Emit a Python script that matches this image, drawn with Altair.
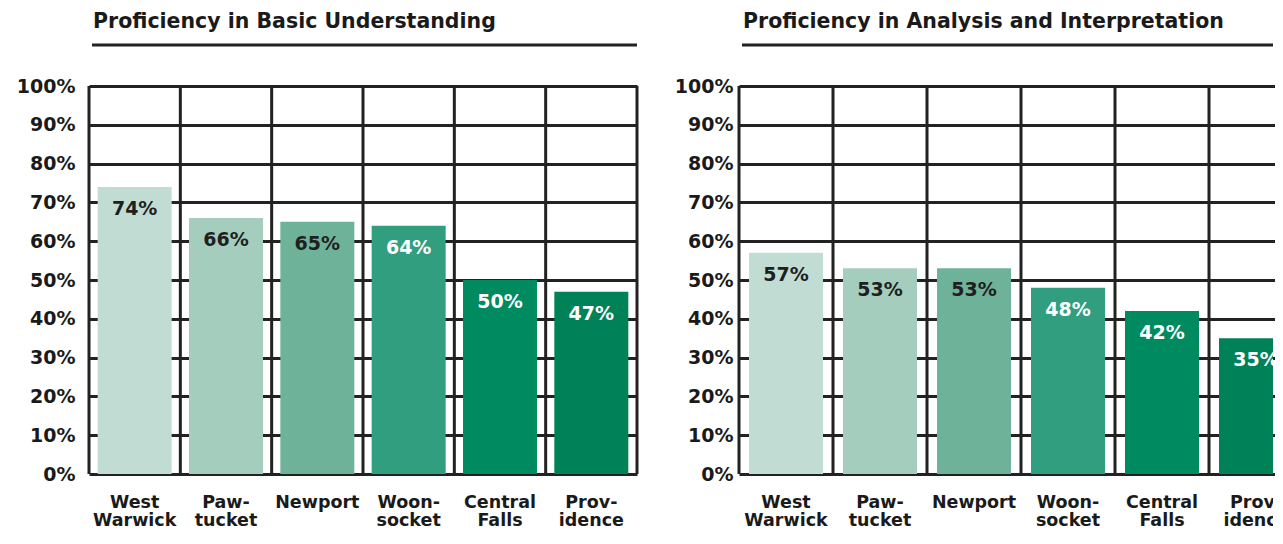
import altair as alt
import pandas as pd

districts = ["West\nWarwick", "Paw-\ntucket", "Newport", "Woon-\nsocket", "Central\nFalls", "Prov-\nidence"]
basic = [74, 66, 65, 64, 50, 47]
analysis = [57, 53, 53, 48, 42, 35]
bar_colors = ["#c1ddd3", "#a4cdbd", "#6fb29a", "#309e7f", "#008a5f", "#008158"]
label_colors = ["#1f1f1f", "#1f1f1f", "#1f1f1f", "#ffffff", "#ffffff", "#ffffff"]
titles = ["Proficiency in Basic Understanding", "Proficiency in Analysis and Interpretation"]
y_ticks = [0, 10, 20, 30, 40, 50, 60, 70, 80, 90, 100]

FONT = "DejaVu Sans"
INK = "#222222"
PLOT_H = 388
VIEW_H = 444


def panel(values, title, width, band_extent, ylab_pad, right_border):
    df = pd.DataFrame({
        "district": districts,
        "pct": values,
        "color": bar_colors,
        "tcolor": label_colors,
        "label": [f"{v}%" for v in values],
    })
    xscale = alt.Scale(domain=districts, range=[0, band_extent], paddingInner=0, paddingOuter=0)
    yscale = alt.Scale(domain=[0, 100], range=[PLOT_H, 0], nice=False)
    yaxis = alt.Axis(
        title=None, values=y_ticks, labelExpr="datum.value + '%'",
        grid=True, gridColor=INK, gridWidth=3, ticks=False, domain=False,
        labelPadding=ylab_pad, labelFontSize=19, labelFont=FONT,
        labelColor="#1a1a1a", labelFontWeight="bold",
    )

    def X(**kw):
        return alt.X("district:N", sort=None, scale=xscale, axis=None, **kw)

    base = alt.Chart(df)

    vlines = base.mark_rule(strokeWidth=3, color=INK).encode(
        x=X(bandPosition=0),
        y=alt.datum(100, scale=yscale, axis=yaxis),
        y2=alt.datum(0),
    )
    layers = [vlines]
    if right_border:
        edge = alt.Chart(pd.DataFrame({"district": districts[-1:]})).mark_rule(
            strokeWidth=3, color=INK
        ).encode(x=X(bandPosition=1), y=alt.datum(100), y2=alt.datum(0))
        layers.append(edge)

    bars = base.mark_bar(width=74, clip=True).encode(
        x=X(),
        y=alt.Y("pct:Q", scale=yscale, axis=yaxis),
        color=alt.Color("color:N", scale=None),
    )
    vals = base.mark_text(
        dy=22, font=FONT, fontSize=19, fontWeight="bold", baseline="middle", clip=True
    ).encode(
        x=X(),
        y=alt.Y("pct:Q", scale=yscale, axis=yaxis),
        text="label:N",
        color=alt.Color("tcolor:N", scale=None),
    )
    xlabels = base.mark_text(
        dy=20, font=FONT, fontSize=17.5, fontWeight="bold", baseline="top",
        lineBreak="\n", lineHeight=18, color="#1a1a1a", clip=True,
    ).encode(
        x=X(),
        y=alt.datum(0, scale=yscale),
        text="district:N",
    )
    tdf = pd.DataFrame({"t": [title]})
    title_mark = alt.Chart(tdf).mark_text(
        align="left", baseline="alphabetic", fontSize=20.5, font=FONT,
        fontWeight="bold", color="#1a1a1a",
    ).encode(x=alt.value(4), y=alt.value(-58), text="t:N")
    underline = alt.Chart(tdf).mark_rule(strokeWidth=3, color=INK).encode(
        x=alt.value(3), x2=alt.value(width), y=alt.value(-41)
    )
    layers += [bars, vals, xlabels, title_mark, underline]
    return alt.layer(*layers).properties(width=width, height=VIEW_H)


left = panel(basic, titles[0], 548, 548, 14, True)
right = panel(analysis, titles[1], 534, 564, 6, False)

chart = (
    alt.hconcat(left, right, spacing=35)
    .properties(padding={"left": 8, "top": 4, "right": 0, "bottom": 0})
    .configure_view(stroke="transparent", strokeWidth=0)
)

chart.save("out.html", embed_options={"renderer": "svg", "actions": False})
